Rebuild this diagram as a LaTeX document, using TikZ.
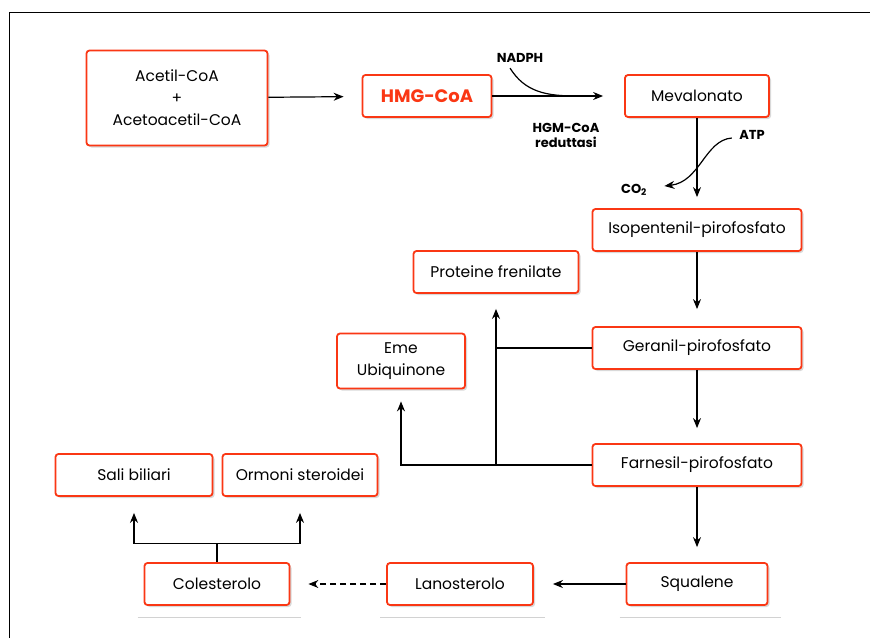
\documentclass[tikz,border=0pt]{standalone}
\usepackage{fontspec}
\setmainfont{Poppins}
\usetikzlibrary{arrows.meta,shadows,calc}
\definecolor{boxred}{RGB}{250,55,20}

\tikzset{
  box/.style={draw=boxred, line width=1.8pt, rounded corners=3pt, fill=white,
    minimum height=42pt, inner sep=0pt, align=center,
    font=\fontsize{15.5}{22}\selectfont,
    drop shadow={shadow xshift=2pt, shadow yshift=-2pt, opacity=0.25, fill=black!60}},
  lbl/.style={font=\bfseries\fontsize{13}{15}\selectfont, align=center},
  arr/.style={-{Stealth[length=10pt,width=8pt]}, line width=1.2pt},
  lnk/.style={line width=1.2pt},
  floor/.style={gray!35, line width=0.8pt}
}

\begin{document}
\begin{tikzpicture}[x=1pt,y=-1pt]
\useasboundingbox (0,0) rectangle (870,638);
\draw[line width=0.8pt] (9,638) -- (9,12) -- (870,12);

% boxes
\node[box, minimum width=181pt, minimum height=95pt] (acetil) at (177,98) {Acetil-CoA\\+\\Acetoacetil-CoA};
\node[box, minimum width=129pt, text=boxred, font=\bfseries\fontsize{18}{22}\selectfont] (hmg) at (427,96) {HMG-CoA};
\node[box, minimum width=144pt] (meva) at (697,96) {Mevalonato};
\node[box, minimum width=209pt] (isop) at (697,230) {Isopentenil-pirofosfato};
\node[box, minimum width=165pt] (prot) at (496,272) {Proteine frenilate};
\node[box, minimum width=128pt, minimum height=55pt] (eme) at (401,361) {Eme\\Ubiquinone};
\node[box, minimum width=209pt] (geran) at (697,348) {Geranil-pirofosfato};
\node[box, minimum width=209pt] (farn) at (697,465) {Farnesil-pirofosfato};
\node[box, minimum width=141pt] (squal) at (697,584) {Squalene};
\node[box, minimum width=146pt] (lano) at (460,584) {Lanosterolo};
\node[box, minimum width=145pt] (coles) at (217,584) {Colesterolo};
\node[box, minimum width=157pt] (sali) at (134,475) {Sali biliari};
\node[box, minimum width=155pt] (ormo) at (300,475) {Ormoni steroidei};

% labels
\node[lbl] (nadph) at (520,58) {NADPH};
\node[lbl] (reduttasi) at (566,135) {HGM-CoA\\reduttasi};
\node[lbl] (atp) at (752,135) {ATP};
\node[lbl] (co2) at (634,190) {CO\textsubscript{2}};

% main pathway
\draw[arr, shorten >=18pt] (acetil) -- (hmg);
\draw[arr, shorten >=21pt] (hmg) -- (meva);
\draw[lnk] ($(nadph.south)+(-10,2)$) .. controls +(15,24) and +(-30,0) .. ($(hmg.east)+(84,0)$);
\draw[arr, shorten >=11pt] (meva) -- (isop);
\draw[arr] ($(atp.west)+(-4,3)$) .. controls (705,140) and (700,182) .. ($(co2.east)+(14,-4)$);
\draw[arr, shorten >=17pt] (isop) -- (geran);
\draw[arr, shorten >=15pt] (geran) -- (farn);
\draw[arr, shorten >=15pt] (farn) -- (squal);
\draw[arr, shorten >=19pt] (squal) -- (lano);
\draw[arr, dash pattern=on 6pt off 4pt, shorten >=18pt] (lano) -- (coles);

% side branches
\draw[lnk] (geran.west) -- (geran.west -| prot.south);
\draw[arr, shorten >=15pt] (farn.west -| prot.south) -- (prot.south);
\draw[arr, shorten >=12pt] (farn.west) -| (eme.south);
\coordinate (split) at ($(coles.north)+(0,-19)$);
\draw[lnk] (coles.north) -- (split);
\draw[arr, shorten >=16pt] (split) -| (sali.south);
\draw[arr, shorten >=16pt] (split) -| (ormo.south);

% floor lines
\draw[floor] ([xshift=-6pt,yshift=-11pt]coles.south west) -- ([xshift=11pt,yshift=-11pt]coles.south east);
\draw[floor] ([xshift=-6pt,yshift=-11pt]lano.south west) -- ([xshift=11pt,yshift=-11pt]lano.south east);
\draw[floor] ([xshift=-6pt,yshift=-11pt]squal.south west) -- ([xshift=13pt,yshift=-11pt]squal.south east);
\end{tikzpicture}
\end{document}
